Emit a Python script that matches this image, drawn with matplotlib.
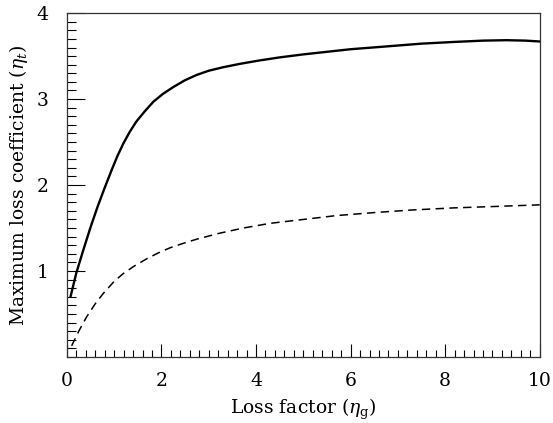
import matplotlib
matplotlib.use("Agg")
import matplotlib.pyplot as plt
from matplotlib.ticker import MultipleLocator

# values
solid_x = [0.08, 0.2, 0.35, 0.5, 0.65, 0.8, 0.95, 1.07, 1.19, 1.33, 1.47, 1.65, 1.83,
           2.03, 2.25, 2.5, 2.74, 3.0, 3.3, 3.66, 4.08, 4.5, 5.0, 5.5, 6.0, 6.7,
           7.5, 8.2, 8.8, 9.3, 9.7, 10.0]
solid_y = [0.71, 0.98, 1.25, 1.51, 1.75, 1.97, 2.18, 2.34, 2.48, 2.62, 2.74, 2.86, 2.97,
           3.06, 3.14, 3.22, 3.28, 3.33, 3.37, 3.41, 3.45, 3.485, 3.52, 3.55, 3.58, 3.61,
           3.645, 3.665, 3.68, 3.685, 3.68, 3.67]

dashed_x = [0.1, 0.25, 0.42, 0.6, 0.77, 1.0, 1.19, 1.43, 1.68, 1.93, 2.18, 2.45,
            2.74, 3.23, 3.73, 4.3, 5.0, 5.7, 6.5, 7.3, 8.2, 9.0, 10.0]
dashed_y = [0.13, 0.30, 0.47, 0.62, 0.74, 0.88, 0.97, 1.06, 1.14, 1.21, 1.27, 1.32,
            1.37, 1.44, 1.50, 1.555, 1.60, 1.645, 1.68, 1.71, 1.735, 1.75, 1.77]

x_ticks = [0, 2, 4, 6, 8, 10]
y_ticks = [1, 2, 3, 4]

plt.rcParams['font.family'] = ['DejaVu Serif']
plt.rcParams['mathtext.fontset'] = 'dejavuserif'

fig = plt.figure(figsize=(5.53, 4.23), dpi=100)
ax = fig.add_axes([0.121, 0.156, 0.855, 0.813])

ax.plot(solid_x, solid_y, color='black', lw=1.7, solid_joinstyle='round')
ax.plot(dashed_x, dashed_y, color='black', lw=1.1, dashes=(5.5, 3.5))

ax.set_xlim(0, 10)
ax.set_ylim(0, 4)
ax.set_xticks(x_ticks)
ax.set_yticks(y_ticks)
ax.xaxis.set_minor_locator(MultipleLocator(0.2))
ax.yaxis.set_minor_locator(MultipleLocator(0.1))

ax.tick_params(axis='both', which='both', direction='in', top=False, right=False,
               labelsize=13.5, width=0.8, colors='black')
ax.tick_params(axis='y', which='major', length=13, pad=13)
ax.tick_params(axis='y', which='minor', length=6.5)
ax.tick_params(axis='x', which='major', length=9.5, pad=11)
ax.tick_params(axis='x', which='minor', length=5)

for s in ax.spines.values():
    s.set_color('#333333')
    s.set_linewidth(0.9)

ax.set_xlabel(r'Loss factor ($\eta_{\mathrm{g}}$)', fontsize=13.5, labelpad=5)
ax.set_ylabel(r'Maximum loss coefficient ($\eta_t$)', fontsize=13.5, labelpad=5)

fig.savefig('out.png', dpi=100)
